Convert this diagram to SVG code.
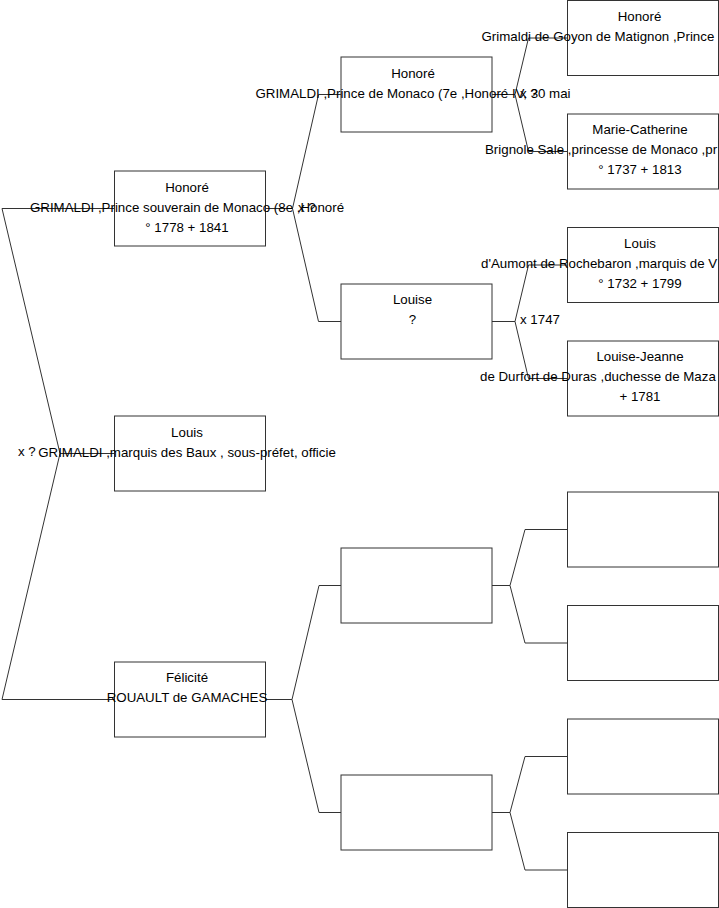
<svg xmlns="http://www.w3.org/2000/svg" width="719" height="908" viewBox="0 0 719 908">
<style>
.box{fill:#fff;stroke:#333;stroke-width:1}
.t{font-family:"Liberation Sans",Arial,sans-serif;font-size:13.3px;fill:#000}
.c{text-anchor:middle}
.ln{fill:none;stroke:#333;stroke-width:1}
</style>
<rect width="719" height="908" fill="#fff"/>
<g id="connectors">
<polyline class="ln" points="114,208.5 2,208.5 60,453.5 114,453.5"/>
<polyline class="ln" points="60,453.5 2,699.5 114,699.5"/>
<polyline class="ln" points="265,208.5 292.5,208.5"/>
<polyline class="ln" points="341,94.5 318.5,94.5 292.5,208.5 318.5,321.5 341,321.5"/>
<polyline class="ln" points="265,699.5 292,699.5"/>
<polyline class="ln" points="341,585.5 319,585.5 292,699.5 319,812.5 341,812.5"/>
<polyline class="ln" points="492,94.5 515,94.5"/>
<polyline class="ln" points="567.5,38 528.5,38 515,94.5 528.5,151.5 567.5,151.5"/>
<polyline class="ln" points="492,321.5 515,321.5"/>
<polyline class="ln" points="567.5,265 528.5,265 515,321.5 528.5,378.5 567.5,378.5"/>
<polyline class="ln" points="492,585.5 510,585.5"/>
<polyline class="ln" points="567.5,529.5 525,529.5 510,585.5 525,643 567.5,643"/>
<polyline class="ln" points="492,812.5 510,812.5"/>
<polyline class="ln" points="567.5,756.5 525,756.5 510,812.5 525,870 567.5,870"/>
</g>
<g id="n1">
<rect class="box" x="114.5" y="171" width="151" height="75"/>
<text class="t c" x="187" y="191.5">Honoré</text>
<text class="t c" x="187" y="211.5">GRIMALDI ,Prince souverain de Monaco (8e ,Honoré</text>
<text class="t c" x="187" y="231.5">° 1778 + 1841</text>
</g>
<g id="n2">
<rect class="box" x="114.5" y="416" width="151" height="75"/>
<text class="t c" x="187" y="436.5">Louis</text>
<text class="t c" x="187" y="456.5">GRIMALDI ,marquis des Baux , sous-préfet, officie</text>
</g>
<g id="n3">
<rect class="box" x="114.5" y="662" width="151" height="75"/>
<text class="t c" x="187" y="682">Félicité</text>
<text class="t c" x="187" y="702">ROUAULT de GAMACHES</text>
</g>
<g id="n4">
<rect class="box" x="341" y="57" width="151" height="75"/>
<text class="t c" x="413" y="77.5">Honoré</text>
<text class="t c" x="413" y="97.5">GRIMALDI ,Prince de Monaco (7e ,Honoré IV, 30 mai</text>
</g>
<g id="n5">
<rect class="box" x="341" y="284" width="151" height="75"/>
<text class="t c" x="412.5" y="304">Louise</text>
<text class="t c" x="412.5" y="324">?</text>
</g>
<g id="n6"><rect class="box" x="341" y="548" width="151" height="75"/></g>
<g id="n7"><rect class="box" x="341" y="775" width="151" height="75"/></g>
<g id="n8">
<rect class="box" x="567.5" y="0.5" width="151" height="75"/>
<text class="t c" x="639.5" y="20.5">Honoré</text>
<text class="t" x="481.5" y="40.5">Grimaldi de Goyon de Matignon ,Prince</text>
</g>
<g id="n9">
<rect class="box" x="567.5" y="114" width="151" height="75"/>
<text class="t c" x="640" y="134">Marie-Catherine</text>
<text class="t" x="485" y="154">Brignole Sale ,princesse de Monaco ,pr</text>
<text class="t c" x="640" y="174">° 1737 + 1813</text>
</g>
<g id="n10">
<rect class="box" x="567.5" y="227.5" width="151" height="75"/>
<text class="t c" x="640" y="247.5">Louis</text>
<text class="t" x="481" y="267.5">d'Aumont de Rochebaron ,marquis de V</text>
<text class="t c" x="640" y="287.5">° 1732 + 1799</text>
</g>
<g id="n11">
<rect class="box" x="567.5" y="341" width="151" height="75"/>
<text class="t c" x="640" y="361">Louise-Jeanne</text>
<text class="t" x="480" y="381">de Durfort de Duras ,duchesse de Maza</text>
<text class="t c" x="640" y="401">+ 1781</text>
</g>
<g id="n12"><rect class="box" x="567.5" y="492" width="151" height="75"/></g>
<g id="n13"><rect class="box" x="567.5" y="605.5" width="151" height="75"/></g>
<g id="n14"><rect class="box" x="567.5" y="719" width="151" height="75"/></g>
<g id="n15"><rect class="box" x="567.5" y="832.5" width="151" height="75"/></g>
<g id="labels">
<text class="t" x="298" y="211.5">x ?</text>
<text class="t" x="18" y="456">x ?</text>
<text class="t" x="520" y="97.5">x ?</text>
<text class="t" x="520" y="324">x 1747</text>
</g>
</svg>
